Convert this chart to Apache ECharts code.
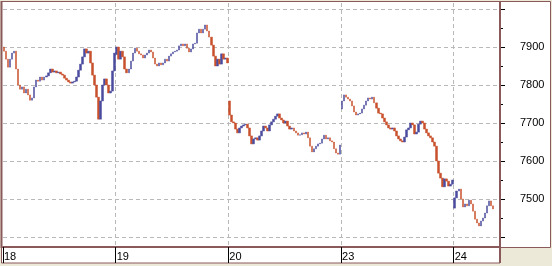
<!DOCTYPE html>
<html><head><meta charset="utf-8">
<script src="https://cdn.jsdelivr.net/npm/echarts@6/dist/echarts.min.js"></script>
<style>html,body{margin:0;padding:0;background:#ECE9D8;}#c{width:552px;height:266px;}</style>
</head><body><div id="c"></div>
<script>
// ---- data ----
const days = ['18', '19', '20', '23', '24'];
const slotsPerDay = [56, 56, 56, 56, 23];          // bar slots per day on the axis
const dayOpens = [7900, 7880, 7758, 7737, 7476];   // opening price of each day
const day18 = [7889,7868,7847,7868,7884,7889,7842,7800,7789,7795,
  7779,7789,7774,7760,7766,7795,7813,7810,7821,7813,
  7821,7824,7832,7842,7834,7837,7832,7834,7829,7826,
  7818,7813,7808,7805,7808,7810,7821,7839,7855,7874,
  7895,7884,7889,7858,7826,7800,7768,7710,7758,7800,
  7816,7800,7779,7784,7837,7884];
const day19 = [7900,7868,7889,7874,7842,7832,7842,7863,7884,7897,
  7889,7882,7879,7871,7879,7884,7892,7887,7871,7855,
  7850,7858,7853,7858,7868,7863,7876,7882,7887,7889,
  7892,7903,7908,7903,7908,7897,7887,7895,7908,7910,
  7937,7947,7937,7947,7958,7942,7926,7905,7876,7850,
  7868,7855,7882,7868,7871,7858];
const day20 = [7721,7703,7700,7684,7674,7687,7692,7695,7697,7687,
  7666,7645,7658,7661,7655,7666,7679,7692,7687,7679,
  7695,7703,7710,7718,7724,7713,7708,7700,7705,7692,
  7684,7687,7679,7674,7668,7669,7674,7671,7676,7661,
  7639,7624,7632,7639,7645,7647,7658,7668,7658,7661,
  7653,7650,7632,7621,7618,7642];
const day23 = [7758,7774,7768,7763,7758,7745,7729,7721,7724,7726,
  7737,7747,7758,7766,7763,7768,7753,7739,7726,7724,
  7713,7703,7695,7687,7684,7687,7679,7666,7658,7653,
  7650,7663,7682,7687,7700,7695,7671,7676,7697,7705,
  7700,7684,7674,7666,7661,7650,7639,7600,7568,7555,
  7532,7553,7547,7534,7539,7550];
const day24 = [7503,7521,7526,7500,7479,7487,7482,7497,7487,7468,
  7447,7437,7429,7442,7450,7463,7482,7495,7482,7474];
const closes = [day18, day19, day20, day23, day24];
const yMin = 7400, yMax = 8000, yStep = 100;

// ---- build category axis + OHLC from the arrays ----
const categories = [];
const candles = [];
days.forEach((d, i) => {
  let prev = dayOpens[i];
  for (let k = 0; k < slotsPerDay[i]; k++) {
    categories.push(d + '-' + k);
    const c = closes[i][k];
    if (c === undefined) { candles.push('-'); continue; }
    candles.push([prev, c, Math.min(prev, c), Math.max(prev, c)]);
    prev = c;
  }
});
const isDayStart = (idx, val) => String(val).endsWith('-0');

const BROWN = '#8A5A5A', UP = '#4C4C9E', DOWN = '#C8502C', GRID = '#B9B9B9';
const FONT = 'Liberation Sans';

const chart = echarts.init(document.getElementById('c'));
chart.setOption({
  animation: false,
  backgroundColor: '#ECE9D8',
  graphic: [
    { type: 'rect', z: -10, silent: true, shape: { x: 1.5, y: 1.5, width: 549, height: 246 },
      style: { fill: '#fff', stroke: BROWN, lineWidth: 1 } },
    { type: 'rect', z: -9, silent: true, shape: { x: 1.5, y: 247.5, width: 498.5, height: 15.5 },
      style: { fill: '#fff', stroke: BROWN, lineWidth: 1 } },
    { type: 'line', z: 100, silent: true, shape: { x1: 500, y1: 1, x2: 500, y2: 263 },
      style: { stroke: BROWN, lineWidth: 2 } },
    { type: 'line', z: 100, silent: true, shape: { x1: 1.5, y1: 1, x2: 1.5, y2: 248 },
      style: { stroke: BROWN, lineWidth: 2 } }
  ],
  grid: [
    { left: 3, width: 497, top: 9, height: 228 },
    { left: 3, width: 497, top: 3, height: 244 }
  ],
  xAxis: [
    { gridIndex: 0, type: 'category', data: categories, boundaryGap: true, show: false },
    { gridIndex: 1, type: 'category', data: categories, boundaryGap: true, position: 'bottom',
      axisLine: { show: true, onZero: false, lineStyle: { color: BROWN, width: 2 } },
      axisTick: { show: true, interval: isDayStart, length: 16, lineStyle: { color: '#000', width: 1 } },
      axisLabel: { show: true, interval: isDayStart, formatter: v => v.split('-')[0],
        align: 'left', margin: 4, color: '#000', fontSize: 11, fontFamily: FONT },
      splitLine: { show: true, interval: (i, v) => i > 0 && isDayStart(i, v),
        lineStyle: { color: GRID, type: [4, 3], width: 1 } } }
  ],
  yAxis: [
    { gridIndex: 0, type: 'value', position: 'right', min: yMin, max: yMax, interval: yStep,
      axisLine: { show: false },
      axisTick: { show: true, length: 5, lineStyle: { color: '#000' } },
      minorTick: { show: true, splitNumber: 2, length: 3, lineStyle: { color: '#000' } },
      axisLabel: { showMinLabel: false, showMaxLabel: false, margin: 20, color: '#000',
        fontSize: 11, fontFamily: FONT, formatter: v => String(v) },
      splitLine: { show: true, lineStyle: { color: GRID, type: [4, 3], width: 1 } } },
    { gridIndex: 1, type: 'value', min: 0, max: 1, show: false }
  ],
  series: [{
    type: 'candlestick', xAxisIndex: 0, yAxisIndex: 0, data: candles,
    barWidth: 2, large: false,
    itemStyle: { color: UP, color0: DOWN, borderColor: UP, borderColor0: DOWN, borderWidth: 0.5 }
  }]
});
</script></body></html>
